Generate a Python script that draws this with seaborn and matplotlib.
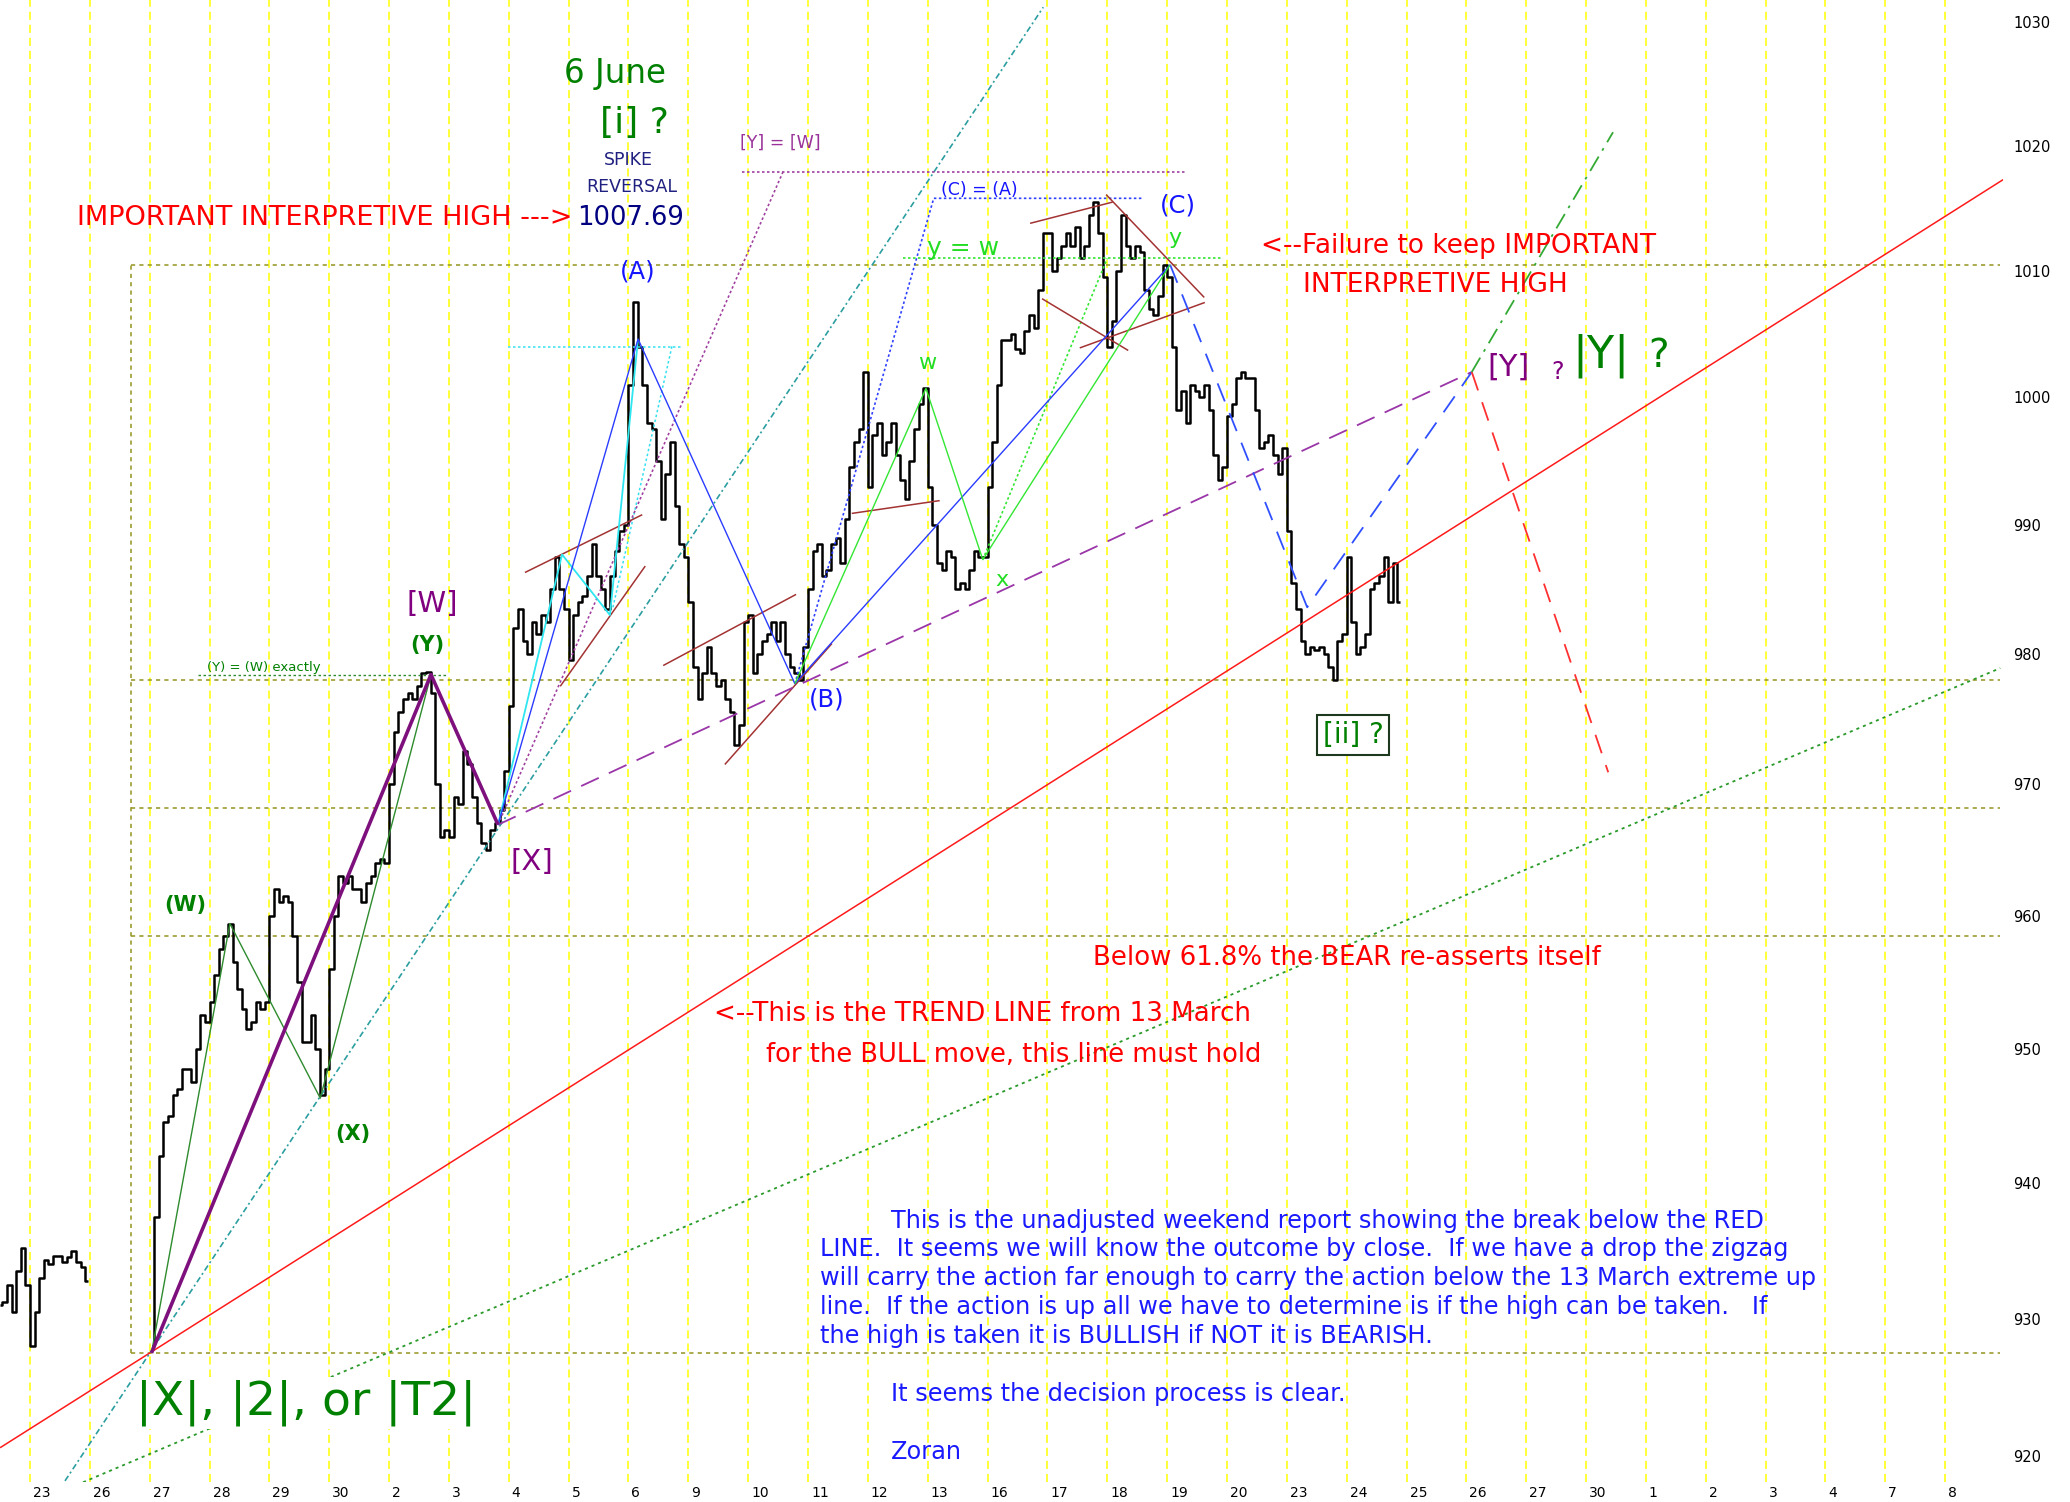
import numpy as np
import pandas as pd
import matplotlib
matplotlib.use("Agg")
import matplotlib.pyplot as plt
import seaborn as sns
from matplotlib.ticker import FixedLocator, FixedFormatter, NullLocator

# ---------------- data ----------------
date_labels = ['23', '26', '27', '28', '29', '30', '2', '3', '4', '5', '6', '9', '10', '11',
               '12', '13', '16', '17', '18', '19', '20', '23', '24', '25', '26', '27', '30',
               '1', '2', '3', '4', '7', '8']
price_ticks = [920, 930, 940, 950, 960, 970, 980, 990, 1000, 1010, 1020, 1030]

# 30-minute closes for each session (13 bars a day)
may22 = [931.0, 931.2, 932.5, 930.5, 933.5, 935.2, 932.5]          # last 7 bars
may23 = [928.0, 930.5, 933.0, 934.3, 934.0, 934.6, 934.6, 934.2, 934.5, 935.0, 934.2, 933.8, 932.8]
may27 = [928.0, 937.5, 942.0, 944.5, 945.0, 946.5, 947.0, 948.5, 948.5, 947.5, 950.0, 952.5, 952.0]
may28 = [953.5, 955.5, 957.5, 958.5, 959.4, 956.5, 954.5, 953.0, 951.5, 952.0, 953.5, 953.0, 953.5]
may29 = [960.0, 962.0, 961.0, 961.5, 961.0, 958.5, 955.0, 950.5, 950.5, 952.5, 950.0, 946.5, 948.5]
may30 = [956.0, 960.0, 963.0, 962.5, 963.0, 962.0, 962.0, 961.0, 962.5, 963.0, 964.0, 964.3, 964.0]
jun02 = [970.0, 974.0, 975.5, 976.5, 977.0, 976.5, 977.5, 978.5, 978.6, 977.0, 970.0, 966.0, 966.5]
jun03 = [966.0, 969.0, 968.5, 972.5, 971.5, 969.0, 967.0, 965.5, 965.0, 966.5, 967.0, 968.0, 971.0]
jun04 = [976.0, 982.0, 983.5, 981.0, 980.0, 982.5, 981.5, 983.0, 982.5, 985.0, 987.5, 985.0, 983.5]
jun05 = [979.5, 983.0, 984.0, 984.5, 986.0, 988.5, 986.0, 985.0, 983.5, 986.0, 988.0, 989.5, 990.0]
jun06 = [1001.0, 1007.5, 1004.0, 1001.0, 998.0, 997.5, 995.0, 990.5, 994.0, 996.5, 991.5, 988.5, 987.5]
jun09 = [984.0, 979.0, 976.5, 978.5, 980.5, 978.5, 977.5, 978.0, 976.5, 975.5, 973.0, 974.5, 982.5]
jun10 = [983.0, 978.5, 980.0, 981.0, 981.5, 982.5, 981.0, 982.5, 980.0, 979.0, 978.5, 978.0, 980.5]
jun11 = [985.0, 988.0, 988.5, 986.0, 986.5, 988.5, 989.0, 987.0, 990.5, 994.5, 996.5, 997.5, 1002.0]
jun12 = [993.0, 997.0, 998.0, 995.5, 996.5, 998.0, 995.5, 993.5, 992.0, 995.0, 997.5, 999.5, 1000.7]
jun13 = [993.0, 990.0, 987.0, 986.5, 988.0, 987.5, 985.0, 985.5, 985.0, 986.5, 988.0, 987.5, 987.5]
jun16 = [993.0, 996.5, 1001.0, 1004.5, 1004.5, 1005.0, 1003.8, 1003.5, 1005.2, 1006.5, 1005.5, 1008.5, 1013.0]
jun17 = [1013.0, 1010.0, 1011.0, 1012.0, 1013.0, 1012.0, 1013.5, 1011.0, 1012.0, 1014.5, 1015.5, 1013.0, 1009.5]
jun18 = [1004.0, 1006.0, 1010.0, 1014.5, 1012.0, 1011.0, 1012.0, 1011.5, 1008.5, 1007.0, 1006.5, 1008.0, 1010.5]
jun19 = [1009.5, 1004.0, 999.0, 1000.5, 998.0, 1001.0, 1000.5, 1000.0, 1001.0, 999.0, 995.5, 993.5, 994.5]
jun20 = [998.5, 999.5, 1001.5, 1002.0, 1001.5, 1001.5, 999.0, 996.0, 996.5, 997.0, 995.5, 994.0, 996.0]
jun23 = [989.5, 985.5, 983.5, 981.0, 980.0, 980.5, 980.3, 980.5, 980.0, 979.0, 978.0, 981.0, 981.5]
jun24 = [987.5, 982.5, 980.0, 980.5, 981.5, 985.0, 985.5, 986.0, 987.5, 984.0, 987.0, 984.0]

# (trading-day index, first bar number, closes, continuous segment)
sessions = [(-1, 6, may22, 0), (0, 0, may23, 0),
            (2, 0, may27, 1), (3, 0, may28, 1), (4, 0, may29, 1), (5, 0, may30, 1),
            (6, 0, jun02, 1), (7, 0, jun03, 1), (8, 0, jun04, 1), (9, 0, jun05, 1),
            (10, 0, jun06, 1), (11, 0, jun09, 1), (12, 0, jun10, 1), (13, 0, jun11, 1),
            (14, 0, jun12, 1), (15, 0, jun13, 1), (16, 0, jun16, 1), (17, 0, jun17, 1),
            (18, 0, jun18, 1), (19, 0, jun19, 1), (20, 0, jun20, 1), (21, 0, jun23, 1),
            (22, 0, jun24, 1)]

# wave points (trading-day position, price)
p_low = (2.03, 927.5)
p_W = (3.34, 959.4)
p_X = (4.85, 946.3)
p_Y = (6.70, 978.4)
p_bX = (7.82, 966.9)
p_c1 = (8.89, 987.7)
p_c2 = (9.69, 983.0)
p_A = (10.16, 1004.6)
p_B = (12.78, 977.7)
p_w = (14.97, 1000.7)
p_x = (15.92, 987.3)
p_y = (19.05, 1010.5)
p_blow = (21.34, 983.6)
p_bY = (24.09, 1002.0)

fib_levels = [1010.5, 978.0, 968.2, 958.5, 927.5]

# ---------------- figure ----------------
sns.set_theme(style="white")
plt.rcParams['font.family'] = ['DejaVu Sans']
plt.rcParams['lines.scale_dashes'] = False
plt.rcParams['lines.solid_capstyle'] = 'butt'

W, H = 2070, 1502
fig = plt.figure(figsize=(W / 100, H / 100), dpi=100, facecolor='white')
ax = fig.add_axes([0, 20 / H, 2003 / W, 1482 / H])
ax.set_facecolor('white')
ax.set_yscale('log')

rows = []
for d, b0, closes, seg in sessions:
    for k, c in enumerate(closes):
        rows.append({'pos': d + (b0 + k + 0.5) / 13.0, 'price': c, 'seg': seg})
df = pd.DataFrame(rows)

sns.lineplot(data=df, x='pos', y='price', units='seg', estimator=None, sort=False,
             color='black', linewidth=1.8, drawstyle='steps-mid', legend=False, ax=ax, zorder=2.5)

ax.set_xlim(-0.501, 32.966)
ax.set_ylim(918.12, 1031.79)

# yellow day grid
for d in range(len(date_labels)):
    ax.axvline(d, color='#ffff00', lw=1.1, ls=(0, (5.8, 3.6)), zorder=0.5)

# fibonacci box
OL = '#9c9c30'
for lv in fib_levels:
    ax.plot([1.69, 32.92], [lv, lv], color=OL, lw=1.2, ls=(0, (3, 3)), zorder=1)
ax.plot([1.69, 1.69], [fib_levels[-1], fib_levels[0]], color=OL, lw=1.2, ls=(0, (3, 3)), zorder=1)


def seg(pts, **kw):
    xs = [p[0] for p in pts]
    ys = [p[1] for p in pts]
    ax.plot(xs, ys, **kw)


# trend lines
seg([(-0.50, 920.6), (32.97, 1017.3)], color='#ff1a1a', lw=1.1, zorder=3)
seg([(0.886, 918.1), (32.92, 978.9)], color='#2a9a2a', lw=1.3, ls=(0, (2.2, 2.9)), zorder=3)
seg([(0.585, 918.2), (16.93, 1031.2)], color='#2b9ea0', lw=1.2, ls=(0, (4.3, 2.2, 1.4, 2.2)), zorder=3)

# wave structure
seg([p_low, p_Y, p_bX], color='#7d107d', lw=2.6, zorder=3.2)
seg([p_low, p_W, p_X, p_Y], color='#2e8b2e', lw=1.0, zorder=3.1)
seg([(2.81, 978.4), (6.98, 978.4)], color='#2e8b2e', lw=1.0, ls=(0, (1.8, 1.8)), zorder=3)
seg([p_bX, p_c1, p_c2, p_A], color='#2ee6f0', lw=1.3, zorder=3.1)
seg([(7.99, 1004.0), (10.89, 1004.0)], color='#33e0f0', lw=1.1, ls=(0, (1.8, 1.8)), zorder=3)
seg([(9.74, 983.6), (10.73, 1004.1)], color='#33e0f0', lw=1.1, ls=(0, (1.8, 1.8)), zorder=3)
seg([p_bX, p_A, p_B, p_y], color='#2a3cff', lw=1.0, zorder=3.1)
seg([p_B, p_w, p_x, p_y], color='#33e633', lw=1.0, zorder=3.1)
seg([p_B, (15.10, 1015.8), (18.60, 1015.8)], color='#3040ff', lw=1.2, ls=(0, (1.8, 1.8)), zorder=3)
seg([p_bX, (12.58, 1017.9)], color='#a040a0', lw=1.2, ls=(0, (1.8, 1.8)), zorder=3)
seg([(11.90, 1017.9), (19.32, 1017.9)], color='#a040a0', lw=1.2, ls=(0, (1.8, 1.8)), zorder=3)
seg([p_x, (18.0, 1011.0)], color='#33e633', lw=1.2, ls=(0, (1.8, 1.8)), zorder=3)
seg([(14.59, 1011.0), (19.93, 1011.0)], color='#33e633', lw=1.2, ls=(0, (1.8, 1.8)), zorder=3)

# brown channel lines
BR = '#a33333'
for pts in ([(8.27, 986.3), (10.23, 990.8)], [(8.86, 977.5), (10.28, 986.8)],
            [(10.58, 979.1), (12.80, 984.6)], [(11.61, 971.5), (13.40, 980.8)],
            [(13.73, 990.9), (15.20, 991.9)],
            [(16.71, 1013.8), (18.09, 1015.5)], [(17.98, 1016.1), (19.62, 1007.9)],
            [(16.91, 1007.8), (18.35, 1003.7)], [(17.54, 1003.9), (19.63, 1007.5)]):
    seg(pts, color=BR, lw=1.1, zorder=3)

# projections
seg([p_bX, p_bY], color='#9a36a8', lw=1.3, ls=(0, (14, 8)), zorder=3)
seg([p_y, p_blow, p_bY], color='#3050ff', lw=1.3, ls=(0, (14, 9)), zorder=3)
seg([p_bY, (26.37, 970.9)], color='#ff3030', lw=1.3, ls=(0, (14, 9)), zorder=3)
seg([p_bY, (26.45, 1021.1)], color='#33aa33', lw=1.3, ls=(0, (12, 5, 2, 5)), zorder=3)

# axes styling
for s in ax.spines.values():
    s.set_visible(False)
ax.grid(False)
ax.set_xlabel('')
ax.set_ylabel('')
ax.yaxis.set_major_locator(FixedLocator(price_ticks))
ax.yaxis.set_major_formatter(FixedFormatter([str(t) for t in price_ticks]))
ax.yaxis.set_minor_locator(NullLocator())
ax.yaxis.tick_right()
ax.tick_params(axis='y', length=0, pad=7.5, labelsize=10.5, labelcolor='black')
ax.set_xticks([d + 0.05 for d in range(len(date_labels))])
ax.set_xticklabels(date_labels)
ax.tick_params(axis='x', length=0, pad=3, labelsize=10, labelcolor='black')
for lab in ax.get_xticklabels():
    lab.set_ha('left')

# ---------------- text ----------------
DG = '#008000'
BG = '#22dd22'
BLUE = '#1515ff'
NAVY = '#000080'
NAVY2 = '#202080'
PURPLE = '#800080'
PURPLE_L = '#993399'
RED = '#ff0000'
PB = '#1a1aff'


def ftxt(x, y, s, **kw):
    kw.setdefault('va', 'center')
    return fig.text(x / W, 1 - y / H, s, **kw)


ftxt(615, 73, '6 June', color=DG, fontsize=23.5, ha='center')
ftxt(634, 123, '[i] ?', color=DG, fontsize=26, ha='center')
ftxt(628, 160, 'SPIKE', color=NAVY2, fontsize=12.5, ha='center')
ftxt(632, 187, 'REVERSAL', color=NAVY2, fontsize=12.5, ha='center')
ftxt(77, 218, 'IMPORTANT INTERPRETIVE HIGH --->', color=RED, fontsize=19.5, ha='left')
ftxt(577, 218, '1007.69', color=NAVY, fontsize=18.5, ha='left')
ftxt(638, 272, '(A)', color=BLUE, fontsize=17.5, ha='center')
ftxt(780, 143, '[Y] = [W]', color=PURPLE_L, fontsize=12.5, ha='center')
ftxt(979, 190, '(C) = (A)', color=BLUE, fontsize=12.5, ha='center')
ftxt(963, 248, 'y = w', color=BG, fontsize=18, ha='center')
ftxt(1178, 206, '(C)', color=BLUE, fontsize=17.5, ha='center')
ftxt(1175, 238, 'y', color=BG, fontsize=16, ha='center')
ftxt(1261, 246, '<--Failure to keep IMPORTANT', color=RED, fontsize=19, ha='left')
ftxt(1303, 285, 'INTERPRETIVE HIGH', color=RED, fontsize=19, ha='left')
ftxt(927, 363, 'w', color=BG, fontsize=16, ha='center')
ftxt(1002, 580, 'x', color=BG, fontsize=16, ha='center')
ftxt(827, 700, '(B)', color=BLUE, fontsize=17.5, ha='center')
ftxt(432, 604, '[W]', color=PURPLE, fontsize=21, ha='center')
ftxt(427, 645, '(Y)', color=DG, fontsize=15, ha='center', fontweight='bold')
ftxt(532, 862, '[X]', color=PURPLE, fontsize=21, ha='center')
ftxt(185, 905, '(W)', color=DG, fontsize=15, ha='center', fontweight='bold')
ftxt(353, 1134, '(X)', color=DG, fontsize=15, ha='center', fontweight='bold')
ftxt(264, 668, '(Y) = (W) exactly', color=DG, fontsize=9.5, ha='center')
ftxt(1353, 735, '[ii] ?', color=DG, fontsize=20, ha='center',
     bbox=dict(boxstyle='square,pad=0.2', fc='white', ec='#1e3a1e', lw=1.5))
ftxt(1509, 367, '[Y]', color=PURPLE, fontsize=22, ha='center')
ftxt(1558, 372, '?', color=PURPLE, fontsize=17, ha='center')
ftxt(1601, 356, '|Y|', color=DG, fontsize=32, ha='center')
ftxt(1659, 356, '?', color=DG, fontsize=28, ha='center')
ftxt(1093, 958, 'Below 61.8% the BEAR re-asserts itself', color=RED, fontsize=18.7, ha='left')
ftxt(714, 1014, '<--This is the TREND LINE from 13 March', color=RED, fontsize=18.8, ha='left')
ftxt(766, 1055, 'for the BULL move, this line must hold', color=RED, fontsize=18.5, ha='left')

para = [(891, 1221, 'This is the unadjusted weekend report showing the break below the RED'),
        (820, 1249, 'LINE.  It seems we will know the outcome by close.  If we have a drop the zigzag'),
        (820, 1278, 'will carry the action far enough to carry the action below the 13 March extreme up'),
        (820, 1307, 'line.  If the action is up all we have to determine is if the high can be taken.   If'),
        (820, 1336, 'the high is taken it is BULLISH if NOT it is BEARISH.'),
        (891, 1394, 'It seems the decision process is clear.'),
        (891, 1452, 'Zoran')]
for x, y, s in para:
    ftxt(x, y, s, color=PB, fontsize=17.3, ha='left')

ftxt(136, 1403, '|X|, |2|, or |T2|', color=DG, fontsize=34, ha='left',
     bbox=dict(boxstyle='square,pad=0.05', fc='white', ec='none'))

fig.savefig('out.png', dpi=100, facecolor='white')
